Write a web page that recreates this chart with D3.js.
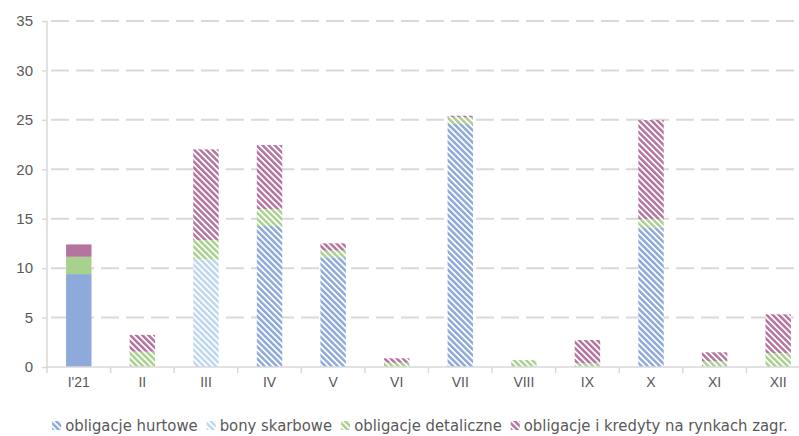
<!DOCTYPE html>
<html>
<head>
<meta charset="utf-8">
<script src="https://cdn.jsdelivr.net/npm/d3@7"></script>
<style>
  html, body { margin: 0; padding: 0; background: #fff; }
  svg { display: block; }
  text { font-family: "Liberation Sans Narrow", "DejaVu Sans Condensed", "Open Sans", sans-serif; }
</style>
</head>
<body>
<svg id="chart" width="799" height="436"></svg>
<script>
// Monthly issuance, bn PLN
const months = ["I'21", "II", "III", "IV", "V", "VI", "VII", "VIII", "IX", "X", "XI", "XII"];
const hurtowe     = [9.4, 0, 0, 14.26, 11.1, 0, 24.58, 0, 0, 14.13, 0, 0];
const bony        = [0, 0, 10.9, 0, 0, 0, 0, 0, 0, 0, 0, 0];
const detaliczne  = [1.75, 1.55, 1.95, 1.72, 0.67, 0.43, 0.68, 0.7, 0.37, 0.81, 0.6, 1.39];
const zagraniczne = [1.25, 1.7, 9.17, 6.48, 0.74, 0.45, 0.16, 0, 2.36, 10.04, 0.89, 3.94];
const yTicks = [0, 5, 10, 15, 20, 25, 30, 35];

const seriesNames = ["obligacje hurtowe", "bony skarbowe", "obligacje detaliczne", "obligacje i kredyty na rynkach zagr."];
const seriesKeys = ["hurtowe", "bony", "detaliczne", "zagraniczne"];
const seriesColors = ["#8eaadb", "#bdd7ee", "#a9d18e", "#b4749f"];

const rows = months.map((m, i) => ({
  month: m,
  hurtowe: hurtowe[i],
  bony: bony[i],
  detaliczne: detaliczne[i],
  zagraniczne: zagraniczne[i]
}));

const svg = d3.select("#chart");
const plotLeft = 47, plotRight = 810, plotTop = 21, plotBottom = 367;

const x = d3.scaleBand().domain(months).range([plotLeft, plotRight]).paddingInner(0.6).paddingOuter(0.3);
const xOuter = d3.scaleBand().domain(months).range([plotLeft, plotRight]);
const y = d3.scaleLinear().domain([0, 35]).range([plotBottom, plotTop]);

// Diagonal hatch fills, one per series
const defs = svg.append("defs");
seriesColors.forEach((c, i) => {
  const p = defs.append("pattern")
    .attr("id", "hatch" + i)
    .attr("patternUnits", "userSpaceOnUse")
    .attr("width", 4.3).attr("height", 4.3)
    .attr("patternTransform", "rotate(-45)");
  p.append("rect").attr("width", 4.3).attr("height", 4.3).attr("fill", "#fff");
  p.append("rect").attr("x", 0).attr("width", 2.5).attr("height", 4.3).attr("fill", c);
});

// Gridlines
svg.append("g")
  .selectAll("line")
  .data(yTicks.filter(d => d > 0))
  .join("line")
  .attr("x1", plotLeft).attr("x2", 799)
  .attr("y1", d => y(d)).attr("y2", d => y(d))
  .attr("stroke", "#d9d9d9")
  .attr("stroke-width", 2)
  .attr("stroke-dasharray", "18,7")
  .attr("stroke-dashoffset", -4);

// Y axis
const yAxis = svg.append("g")
  .attr("transform", `translate(${plotLeft},0)`)
  .call(d3.axisLeft(y).tickValues(yTicks).tickSize(5).tickPadding(9).tickFormat(d3.format("d")));
yAxis.select(".domain").attr("stroke", "#d9d9d9").attr("stroke-width", 1.5).attr("d", `M0,${plotTop}V${plotBottom}`);
yAxis.selectAll(".tick line").attr("stroke", "#d9d9d9").attr("stroke-width", 1.5);
yAxis.selectAll(".tick text").attr("fill", "#595959").attr("font-size", 15)
  .style("font-family", "'Liberation Sans', 'DejaVu Sans', sans-serif");

// Stacked bars
const stack = d3.stack().keys(seriesKeys);
const stacked = stack(rows);
svg.append("g")
  .selectAll("g")
  .data(stacked)
  .join("g")
  .each(function(layer, li) {
    d3.select(this).selectAll("rect")
      .data(layer.filter(d => d[1] - d[0] > 0))
      .join("rect")
      .attr("x", d => x(d.data.month))
      .attr("width", x.bandwidth())
      .attr("y", d => y(d[1]))
      .attr("height", d => y(d[0]) - y(d[1]))
      .attr("fill", d => d.data.month === months[0] ? seriesColors[li] : `url(#hatch${li})`);
  });

// X axis
const xAxis = svg.append("g")
  .attr("transform", `translate(0,${plotBottom})`)
  .call(d3.axisBottom(x).tickSize(0).tickPadding(10));
xAxis.select(".domain").attr("stroke", "#d9d9d9").attr("stroke-width", 1.5).attr("d", `M${plotLeft},0H799`);
xAxis.selectAll(".tick text").attr("fill", "#595959").attr("font-size", 14)
  .style("font-family", "'Liberation Sans', 'DejaVu Sans', sans-serif");
svg.append("g")
  .selectAll("line")
  .data(months)
  .join("line")
  .attr("x1", d => xOuter(d)).attr("x2", d => xOuter(d))
  .attr("y1", plotBottom).attr("y2", plotBottom + 6)
  .attr("stroke", "#d9d9d9").attr("stroke-width", 1.5);

// Legend
const legend = svg.append("g");
const items = legend.selectAll("g").data(seriesNames).join("g");
items.append("rect")
  .attr("width", 9).attr("height", 9)
  .attr("y", -10)
  .attr("fill", (d, i) => `url(#hatch${i})`);
items.append("text")
  .attr("x", 13).attr("y", 0)
  .attr("fill", "#595959")
  .attr("font-size", 16.5)
  .text(d => d);
const widths = [];
items.each(function() {
  widths.push(this.querySelector("text").getComputedTextLength() + 13);
});
const gap = 9;
const total = d3.sum(widths) + gap * (widths.length - 1);
let cursor = 420 - total / 2;
items.attr("transform", (d, i) => {
  const t = `translate(${cursor},431)`;
  cursor += widths[i] + gap;
  return t;
});
</script>
</body>
</html>
